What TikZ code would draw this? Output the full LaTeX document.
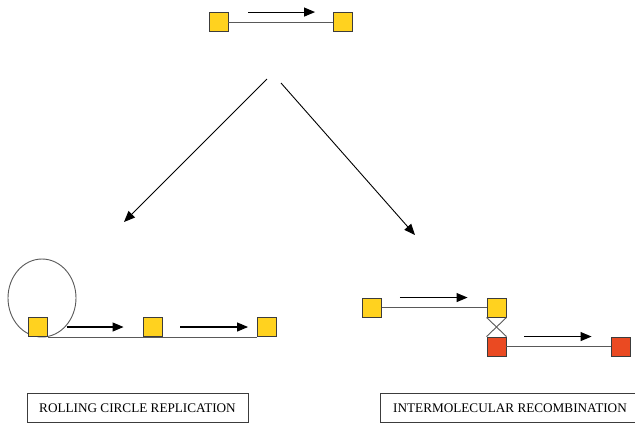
\documentclass[tikz,border=0pt]{standalone}
\usepackage{fontspec}
\setmainfont{Liberation Serif}
\usetikzlibrary{arrows.meta,positioning,calc}
\definecolor{plasmid}{HTML}{FFD21F}
\definecolor{recomb}{HTML}{EA4A22}
\definecolor{edge}{HTML}{3C3C3C}

\begin{document}
\begin{tikzpicture}[x=1pt, y=-1pt,
  site/.style={draw=edge, line width=0.9pt, minimum size=19pt, inner sep=0pt, fill=plasmid},
  redsite/.style={site, fill=recomb},
  strand/.style={draw=edge!85, line width=0.9pt},
  dirarrow/.style={line width=1.1pt, -{Triangle[length=11pt,width=9pt]}},
  outcome/.style={draw=edge, line width=1pt, minimum height=29pt, font=\fontsize{13.2}{15}\selectfont}]
  \useasboundingbox (0,0) rectangle (635,424);

  % starting element
  \node[site] (top1) at (218.5,22) {};
  \node[site] (top2) at (343,22) {};
  \draw[strand] (top1) -- (top2);
  \draw[dirarrow] ($(top1.north east)+(20,0)$) -- ($(top2.north west)+(-18,0)$);

  % the two routes
  \coordinate (splitL) at (267,79);
  \coordinate (toRolling) at (124,222);
  \coordinate (splitR) at (281,83);
  \coordinate (toRecomb) at (415,235);
  \draw[line width=0.9pt, -{Triangle[length=11pt,width=9pt]}] (splitL) -- (toRolling);
  \draw[line width=0.9pt, -{Triangle[length=11pt,width=9pt]}] (splitR) -- (toRecomb);

  % rolling circle
  \draw[strand] (42,298) ellipse[x radius=34, y radius=39];
  \node[site] (roll1) at (38,327) {};
  \node[site] (roll2) at (152.5,327) {};
  \node[site] (roll3) at (267,327) {};
  \draw[strand] (roll1.south east) -- (roll3.south west);
  \draw[dirarrow] ($(roll1.east)+(19,0)$) -- ($(roll2.west)+(-19,0)$);
  \draw[dirarrow] ($(roll2.east)+(18,0)$) -- ($(roll3.west)+(-9,0)$);

  % recombination
  \node[site] (rec1) at (372,307.5) {};
  \node[site] (rec2) at (496.5,307.5) {};
  \node[redsite] (rec3) at (496.5,346.5) {};
  \node[redsite] (rec4) at (620.5,346.5) {};
  \draw[strand] (rec1) -- (rec2);
  \draw[strand] (rec3) -- (rec4);
  \draw[strand] (rec2.south west) -- (rec3.north east);
  \draw[strand] (rec2.south east) -- (rec3.north west);
  \draw[dirarrow] ($(rec1.north east)+(18,0)$) -- ($(rec2.north west)+(-19,0)$);
  \draw[dirarrow] ($(rec3.north east)+(18,0)$) -- ($(rec4.north west)+(-19,0)$);

  % outcome labels
  \node[outcome, minimum width=221pt] (rollLabel) at (137.5,408) {ROLLING CIRCLE REPLICATION};
  \node[outcome, minimum width=260pt] (recLabel) at (510,408) {INTERMOLECULAR RECOMBINATION};
\end{tikzpicture}
\end{document}
